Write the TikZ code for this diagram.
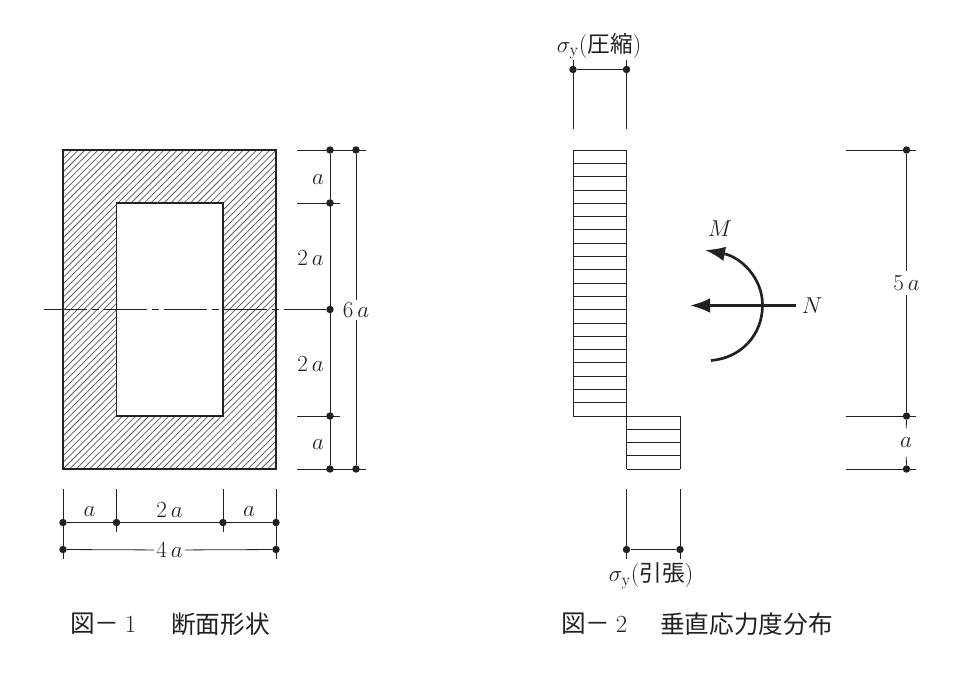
\documentclass[tikz,border=0pt]{standalone}
\usepackage{fontspec}
\newfontfamily\cjk{Noto Sans CJK JP}
\usetikzlibrary{arrows.meta}
\definecolor{ink}{gray}{0.13}
\tikzset{
  x=0.75pt,y=-0.75pt,
  dimline/.style={draw=ink,line width=0.6pt},
  boldline/.style={draw=ink,line width=1.35pt},
  hatchline/.style={draw=ink!75,line width=0.55pt},
  dotpt/.style={circle,fill=ink,inner sep=0pt,minimum size=5.6pt},
  lab/.style={text=ink,font=\fontsize{18}{20}\selectfont,inner sep=1pt},
  captext/.style={text=ink,font=\fontsize{18.5}{22}\cjk,inner sep=0pt},
  sig/.style={text=ink,font=\fontsize{18}{20}\selectfont,inner sep=0pt},
  force/.style={draw=ink,line width=2pt,-{Latex[length=15pt,width=11pt]}},
}
\newcommand{\dotat}[2]{\node[dotpt] (#1) at (#2) {};}
\newcommand{\cjkmid}[1]{{\fontsize{17}{19}\cjk #1}}
\begin{document}
\begin{tikzpicture}
\useasboundingbox (0,0) rectangle (966,672);
% Figure 1 section
\begin{scope}
\clip (63,150) rectangle (276,469);
\foreach \k in {-49,...,33}{
  \draw[hatchline] (63+\k*6.6,469) -- ++(319,-319);
}
\end{scope}
\node[draw=ink,line width=1.35pt,minimum width=159.75pt,minimum height=239.25pt,inner sep=0pt,outer sep=0pt] (outer) at (169.5,309.5) {};
\node[draw=ink,line width=1.35pt,fill=white,minimum width=79.9pt,minimum height=159.75pt,inner sep=0pt,outer sep=0pt] (inner) at (169.75,309.5) {};
% centre line
\coordinate (cl) at (44,309.5);
\dotat{r3}{330,309.5}
\draw[draw=ink,line width=0.6pt,dash pattern=on 32pt off 4pt on 5pt off 4pt] (cl) -- (r3);
% right dimensions
\dotat{r1}{330,150}\dotat{r2}{330,203}\dotat{r4}{330,416}\dotat{r5}{330,469}
\dotat{s1}{356,150}\dotat{s2}{356,469}
\coordinate (h1) at (297,150);\coordinate (h1e) at (366,150);
\coordinate (h2) at (297,203);\coordinate (h2e) at (340,203);
\coordinate (h4) at (297,416);\coordinate (h4e) at (340,416);
\coordinate (h5) at (297,469);\coordinate (h5e) at (366,469);
\draw[dimline] (h1) -- (h1e);
\draw[dimline] (h2) -- (h2e);
\draw[dimline] (h4) -- (h4e);
\draw[dimline] (h5) -- (h5e);
\draw[dimline] (r1) -- (r5);
\node[lab] (la1) at (318,179.5) {$a$};
\node[lab] (la2) at (310.5,258) {$2\mskip3mu a$};
\node[lab] (la3) at (310.5,364) {$2\mskip3mu a$};
\node[lab] (la4) at (318,445) {$a$};
\node[lab,fill=white,inner sep=1.5pt] (six) at (356,310) {$6\mskip3mu a$};
\draw[dimline] (s1) -- (six);
\draw[dimline] (six) -- (s2);
% bottom dimensions
\dotat{b1}{63,522.5}\dotat{b2}{116.5,522.5}\dotat{b3}{223,522.5}\dotat{b4}{276,522.5}
\dotat{c1}{63,549.5}\dotat{c2}{276,549.5}
\coordinate (t1) at (63,489);\coordinate (t1e) at (63,559);
\coordinate (t2) at (116.5,489);\coordinate (t2e) at (116.5,532);
\coordinate (t3) at (223,489);\coordinate (t3e) at (223,532);
\coordinate (t4) at (276,489);\coordinate (t4e) at (276,559);
\draw[dimline] (t1) -- (t1e);
\draw[dimline] (t2) -- (t2e);
\draw[dimline] (t3) -- (t3e);
\draw[dimline] (t4) -- (t4e);
\draw[dimline] (b1) -- (b4);
\node[lab] (ba1) at (89.5,512) {$a$};
\node[lab] (ba2) at (169.5,510) {$2\mskip3mu a$};
\node[lab] (ba3) at (249,512) {$a$};
\node[lab,fill=white,inner sep=1.5pt] (four) at (169.5,550) {$4\mskip3mu a$};
\draw[dimline] (c1) -- (four);
\draw[dimline] (four) -- (c2);
\node[captext,anchor=west] (cap1a) at (70,624) {図－\hspace{4pt}{\rmfamily 1}};
\node[captext,anchor=west] (cap1b) at (171,624) {断面形状};
% Figure 2 top dimension
\dotat{p1}{573,69.5}\dotat{p2}{626.5,69.5}
\coordinate (u1) at (573,60);\coordinate (u1e) at (573,129);
\coordinate (u2) at (626.5,60);\coordinate (u2e) at (626.5,129);
\draw[dimline] (u1) -- (u1e);
\draw[dimline] (u2) -- (u2e);
\draw[dimline] (p1) -- (p2);
\node[sig] (sc) at (599,46) {$\sigma_{\mathrm{y}}$(\cjkmid{圧縮})};
% stress block
\foreach \i in {0,...,20}{
  \draw[dimline] (573,150+\i*13.3) -- (626.5,150+\i*13.3);
}
\foreach \i in {0,...,4}{
  \draw[dimline] (626.5,416+\i*13.25) -- (680,416+\i*13.25);
}
\draw[dimline] (573,150) -- (573,416);
\draw[dimline] (680,416) -- (680,469);
\draw[boldline] (626.5,150) -- (626.5,469);
% bottom dimension fig 2
\dotat{q1}{626.5,549.5}\dotat{q2}{680,549.5}
\coordinate (w1) at (626.5,489);\coordinate (w1e) at (626.5,559);
\coordinate (w2) at (680,489);\coordinate (w2e) at (680,559);
\draw[dimline] (w1) -- (w1e);
\draw[dimline] (w2) -- (w2e);
\draw[dimline] (q1) -- (q2);
\node[sig] (st) at (651,576) {$\sigma_{\mathrm{y}}$(\cjkmid{引張})};
% right dimension fig 2
\dotat{d1}{906.5,150}\dotat{d2}{906.5,416}\dotat{d3}{906.5,469}
\coordinate (e1) at (846,150);\coordinate (e1e) at (916,150);
\coordinate (e2) at (846,416);\coordinate (e2e) at (916,416);
\coordinate (e3) at (846,469);\coordinate (e3e) at (916,469);
\draw[dimline] (e1) -- (e1e);
\draw[dimline] (e2) -- (e2e);
\draw[dimline] (e3) -- (e3e);
\node[lab,fill=white,inner sep=3pt] (five) at (906.5,283) {$5\mskip3mu a$};
\node[lab,fill=white,inner sep=0pt,minimum height=21pt] (aa) at (906,442.5) {$a$};
\draw[dimline] (d1) -- (five);
\draw[dimline] (five) -- (d2);
\draw[dimline] (d2) -- (aa);
\draw[dimline] (aa) -- (d3);
% forces
\coordinate (nstart) at (796,305.5);
\coordinate (nend) at (690,305.5);
\draw[force] (nstart) -- (nend);
\draw[draw=ink,line width=2pt,-{Latex[length=15pt,width=11pt]}]
  (711,360.5) .. controls (741,358) and (762.5,335) .. (762.5,305)
  .. controls (762.5,278) and (741,257) .. (705,250);
\node[lab] (mm) at (720,229) {$M$};
\node[lab] (nn) at (812,306) {$N$};
\node[captext,anchor=west] (cap2a) at (561,624) {図－\hspace{4pt}{\rmfamily 2}};
\node[captext,anchor=west] (cap2b) at (660,624) {垂直応力度分布};
\end{tikzpicture}
\end{document}
